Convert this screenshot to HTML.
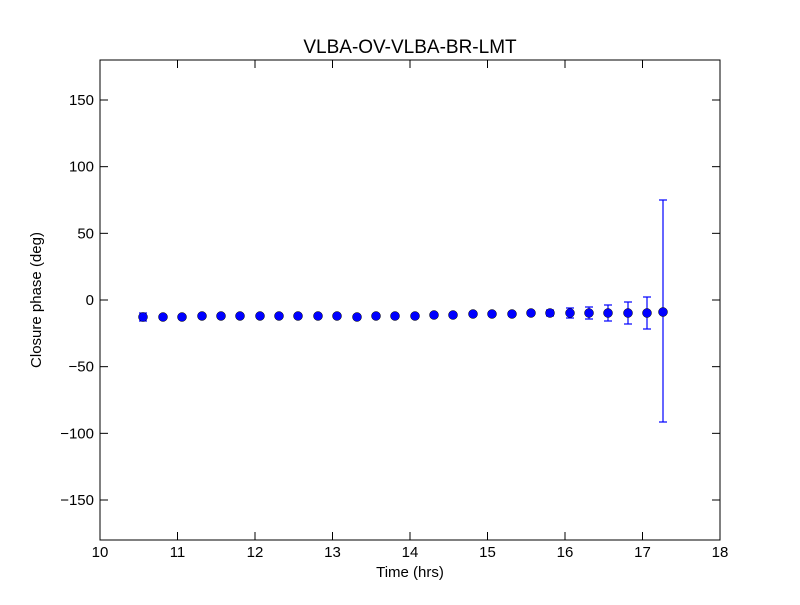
<!DOCTYPE html><html><head><style>body{margin:0;background:#fff}svg text{font-family:"Liberation Sans",sans-serif}</style></head><body>
<svg width="800" height="600" xmlns="http://www.w3.org/2000/svg">
<rect width="800" height="600" fill="#fff"/>
<text x="410" y="53" font-size="19" text-anchor="middle">VLBA-OV-VLBA-BR-LMT</text>
<g id="pts" fill="#0000ff" stroke="#000" stroke-width="0.5"></g>
<rect x="100" y="60" width="620" height="480" fill="none" stroke="#000" stroke-width="1"/>
<g id="ticks" stroke="#000" stroke-width="1"></g>
<g id="lbl" font-size="15"></g>
<text x="410" y="577" font-size="15" text-anchor="middle">Time (hrs)</text>
<text transform="translate(41,300) rotate(-90)" font-size="15" text-anchor="middle">Closure phase (deg)</text>
</svg>
<script>
var ns="http://www.w3.org/2000/svg";
function el(p,t,a,txt){var e=document.createElementNS(ns,t);for(var k in a)e.setAttribute(k,a[k]);if(txt!=null)e.textContent=txt;document.getElementById(p).appendChild(e);}
for(var i=0;i<=8;i++){var x=100+i*77.5;el('ticks','line',{x1:x,y1:540,x2:x,y2:532});el('ticks','line',{x1:x,y1:60,x2:x,y2:68});el('lbl','text',{x:x,y:557,'text-anchor':'middle'},String(10+i));}
var ys=[150,100,50,0,-50,-100,-150];
ys.forEach(function(v){var y=300-v*4/3;el('ticks','line',{x1:100,y1:y,x2:108,y2:y});el('ticks','line',{x1:720,y1:y,x2:712,y2:y});el('lbl','text',{x:94,y:y+5,'text-anchor':'end'},(v<0?'\u2212'+(-v):String(v)));});
var d=[[143,317,4],[163,317,2],[182,317,2],[202,316,2],[221,316,2],[240,316,2],[260,316,2],[279,316,2],[298,316,2],[318,316,2],[337,316,2],[357,317,2],[376,316,2],[395,316,2],[415,316,2],[434,315,2],[453,315,2],[473,314,2],[492,314,2],[512,314,2],[531,313,2],[550,313,3],[570,313,5],[589,313,6],[608,313,8],[628,313,11],[647,313,16],[663,312,111]];
d.forEach(function(p){var x=p[0],y=p[1],e=p[2];var t=y-e,b=y+e;if(p[2]>100){t=200;b=422;}
el('pts','line',{x1:x,y1:t,x2:x,y2:b,stroke:'#0000ff','stroke-width':1.2});
el('pts','line',{x1:x-4,y1:t,x2:x+4,y2:t,stroke:'#0000ff','stroke-width':1.2});
el('pts','line',{x1:x-4,y1:b,x2:x+4,y2:b,stroke:'#0000ff','stroke-width':1.2});
el('pts','circle',{cx:x,cy:y,r:4.5});});
</script></body></html>
